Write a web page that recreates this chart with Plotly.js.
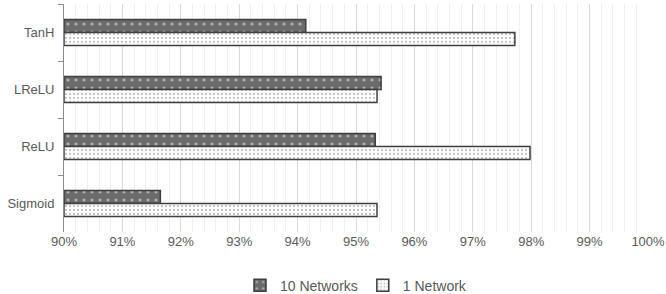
<!DOCTYPE html>
<html><head><meta charset="utf-8">
<script src="https://cdn.plot.ly/plotly-3.0.1.min.js"></script>
<style>html,body{margin:0;padding:0;background:#fff}#chart{width:666px;height:294px}</style>
</head><body><div id="chart"></div>
<script>
const categories = ['TanH', 'LReLU', 'ReLU', 'Sigmoid'];
const tenNetworks = [94.14, 95.43, 95.33, 91.65];
const oneNetwork = [97.72, 95.36, 97.98, 95.36];
const xTicks = [90, 91, 92, 93, 94, 95, 96, 97, 98, 99, 100];

const font = {family: 'Liberation Sans, Arial, sans-serif', color: '#595959'};
const traces = [
  {type: 'bar', orientation: 'h', name: '10 Networks', y: categories, x: tenNetworks.map(v => v - 90),
   base: 90, hoverinfo: 'skip',
   marker: {color: '#6b6b6b', line: {color: '#3f3f3f', width: 1.5},
            pattern: {shape: '.', fgcolor: '#b0b0b0', bgcolor: '#6b6b6b', size: 8, solidity: 0.12}}},
  {type: 'bar', orientation: 'h', name: '1 Network', y: categories, x: oneNetwork.map(v => v - 90),
   base: 90, hoverinfo: 'skip',
   marker: {color: '#ffffff', line: {color: '#3f3f3f', width: 1.5},
            pattern: {shape: '.', fgcolor: '#c4c4c4', bgcolor: '#ffffff', size: 4, solidity: 0.25}}}
];

const layout = {
  width: 666, height: 294,
  margin: {l: 64, r: 18, t: 4, b: 62, autoexpand: false},
  paper_bgcolor: '#fff', plot_bgcolor: '#fff',
  barmode: 'group', bargap: 0.54, bargroupgap: 0,
  font: Object.assign({size: 13}, font),
  showlegend: true,
  legend: {orientation: 'h', x: 0.5, xanchor: 'center', xref: 'paper',
           y: -0.165, yanchor: 'top', yref: 'paper',
           font: Object.assign({size: 14}, font), itemwidth: 30},
  xaxis: {range: [90, 100], tickvals: xTicks, ticktext: xTicks.map(v => v + '%'),
          showgrid: true, gridcolor: '#d9d9d9', gridwidth: 1, zeroline: false,
          showline: false, ticks: '', tickfont: Object.assign({size: 13}, font),
          minor: {dtick: 0.2, tick0: 90, showgrid: true, gridcolor: '#efefef', gridwidth: 1, ticks: ''}},
  yaxis: {type: 'category', categoryorder: 'array', categoryarray: categories,
          autorange: 'reversed', showline: true, linecolor: '#8c8c8c', linewidth: 1,
          ticks: 'outside', tickson: 'boundaries', ticklen: 5, tickcolor: '#8c8c8c',
          showgrid: false, tickfont: Object.assign({size: 13}, font), ticklabelstandoff: 6}
};
Plotly.newPlot('chart', traces, layout, {staticPlot: true});
</script></body></html>
